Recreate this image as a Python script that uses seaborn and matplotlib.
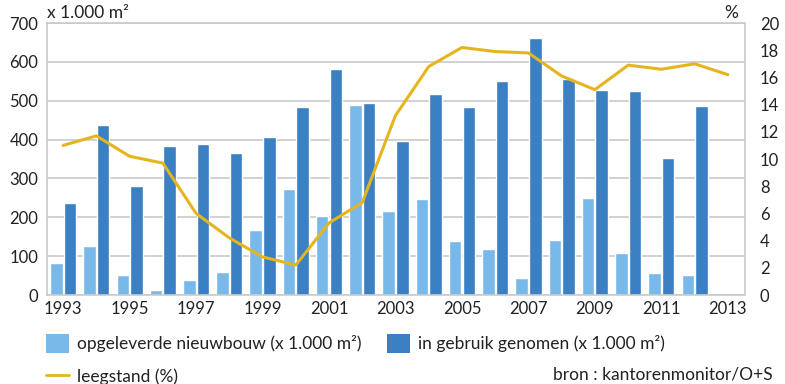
import matplotlib
matplotlib.use("Agg")
import matplotlib.pyplot as plt
import seaborn as sns
import numpy as np
import pandas as pd
from matplotlib.patches import Patch
from matplotlib.lines import Line2D

years = list(range(1993, 2014))
nieuwbouw = [82, 126, 52, 13, 39, 59, 167, 273, 204, 490, 216,
             247, 139, 119, 44, 142, 250, 108, 57, 52, np.nan]
in_gebruik = [237, 438, 281, 384, 389, 366, 407, 484, 582, 495, 397,
              518, 484, 551, 662, 557, 528, 526, 353, 487, np.nan]
leegstand = [11.0, 11.7, 10.2, 9.7, 6.0, 4.2, 2.8, 2.2, 5.3, 6.8, 13.2,
             16.8, 18.2, 17.9, 17.8, 16.1, 15.1, 16.9, 16.6, 17.0, 16.2]

light_blue = "#79b9ea"
dark_blue = "#3a80c3"
gold = "#e5b51f"
grid_grey = "#c9c9c9"
text_col = "#222222"

sns.set_theme(style="white")
plt.rcParams["font.family"] = ["Lato", "DejaVu Sans"]

df = pd.DataFrame({
    "jaar": [str(y) for y in years] * 2,
    "waarde": nieuwbouw + in_gebruik,
    "reeks": ["opgeleverde nieuwbouw (x 1.000 m²)"] * len(years)
             + ["in gebruik genomen (x 1.000 m²)"] * len(years),
})

fig = plt.figure(figsize=(7.85, 3.84), dpi=100)
ax = fig.add_axes([46.5 / 785, 1 - 295 / 384, 698 / 785, 272 / 384])

sns.barplot(data=df, x="jaar", y="waarde", hue="reeks",
            palette=[light_blue, dark_blue], width=0.82, gap=0.08,
            saturation=1, ax=ax, legend=False)

ax.set_ylim(0, 700)
ax.set_yticks(range(0, 701, 100))
ax.set_xlim(-0.5, len(years) - 0.5)
ax.set_xticks(range(0, len(years), 2))
ax.set_xticklabels([str(y) for y in years[::2]])
ax.set_xlabel("")
ax.set_ylabel("")
ax.yaxis.grid(True, color=grid_grey, linewidth=1.2)
ax.set_axisbelow(True)
for s in ax.spines.values():
    s.set_color(grid_grey)
    s.set_linewidth(1.2)
ax.tick_params(axis="both", length=0, labelsize=12, colors=text_col)
ax.tick_params(axis="x", pad=4)
ax.tick_params(axis="y", pad=6)

ax2 = ax.twinx()
sns.lineplot(x=np.arange(len(years)), y=leegstand, color=gold,
             linewidth=2.2, ax=ax2)
ax2.set_ylim(0, 20)
ax2.set_yticks(range(0, 21, 2))
ax2.tick_params(axis="y", length=0, labelsize=12, colors=text_col, pad=11)
ax2.grid(False)
for s in ax2.spines.values():
    s.set_visible(False)

fig.text(47 / 785, 1 - 13 / 384, "x 1.000 m²", fontsize=12.5,
         color=text_col, va="center", ha="left")
fig.text(738 / 785, 1 - 13 / 384, "%", fontsize=12.5,
         color=text_col, va="center", ha="right")

# column-major fill: first column holds nieuwbouw and leegstand
handles = [Patch(facecolor=light_blue, edgecolor="none"),
           Line2D([0], [0], color=gold, linewidth=2),
           Patch(facecolor=dark_blue, edgecolor="none")]
labels = ["opgeleverde nieuwbouw (x 1.000 m²)",
          "leegstand (%)",
          "in gebruik genomen (x 1.000 m²)"]
fig.legend(handles, labels, ncol=2, loc="upper left",
           bbox_to_anchor=(39 / 785, 1 - 327 / 384), frameon=False,
           fontsize=12.5, handlelength=1.32, handleheight=1.27,
           handletextpad=0.46, columnspacing=1.5, labelspacing=0.85,
           borderaxespad=0, labelcolor=text_col)

fig.text(773 / 785, 1 - 375 / 384, "bron : kantorenmonitor/O+S",
         fontsize=12.5, color=text_col, va="center", ha="right")

fig.savefig("out.png", dpi=100)
